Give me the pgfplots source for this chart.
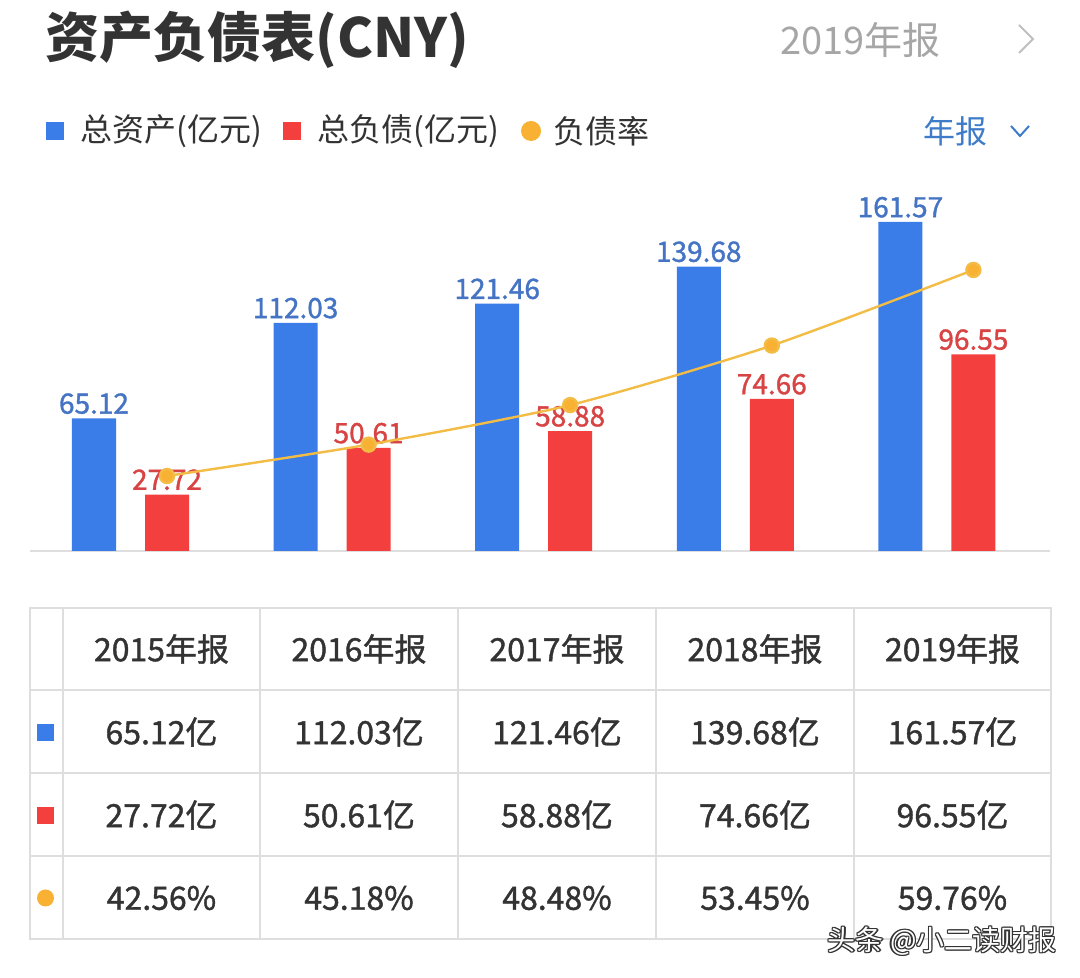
\documentclass[border=0pt]{standalone}
\usepackage{fontspec}
\setmainfont{Noto Sans CJK SC}
\newfontfamily\medfont{Noto Sans CJK SC}[FakeBold=1.2]
\usepackage{pgfplots}
\pgfplotsset{compat=1.18}

\definecolor{zc}{HTML}{3B7DE8}
\definecolor{fz}{HTML}{F43F3F}
\definecolor{rate}{HTML}{F8B133}
\definecolor{ratel}{HTML}{F2BC45}
\definecolor{txt}{HTML}{333333}
\definecolor{gridc}{HTML}{DEDEDE}
\definecolor{zcl}{HTML}{4574C4}
\definecolor{fzl}{HTML}{D84444}
\definecolor{nianbao}{HTML}{3E7BC8}

\begin{document}
\begin{tikzpicture}
\begin{scope}[x=0.5pt,y=0.5pt]
\fill[white] (0,0) rectangle (1080,978);

% header
\node[anchor=west, text=txt, font=\fontsize{27}{30}\selectfont\bfseries, inner sep=0] at (45,{978-40}) {资产负债表(CNY)};
\node[anchor=east, text=black!35, font=\fontsize{19}{22}\selectfont, inner sep=0] at (941,{978-40}) {2019年报};
\draw[black!25, line width=1pt] (1019,{978-25}) -- (1033,{978-39}) -- (1019,{978-53});

% legend
\fill[zc] (46,{978-140}) rectangle (64,{978-122});
\node[anchor=west, text=txt, font=\fontsize{16}{19}\selectfont, inner sep=0] at (80,{978-131}) {总资产(亿元)};
\fill[fz] (283,{978-140}) rectangle (301,{978-122});
\node[anchor=west, text=txt, font=\fontsize{16}{19}\selectfont, inner sep=0] at (317,{978-131}) {总负债(亿元)};
\fill[rate] (531,{978-131}) circle (10);
\node[anchor=west, text=txt, font=\fontsize{16}{19}\selectfont, inner sep=0] at (553,{978-131}) {负债率};
\node[anchor=west, text=nianbao, font=\fontsize{16}{19}\selectfont, inner sep=0] at (923,{978-131}) {年报};
\draw[nianbao, line width=1pt] (1011,{978-126}) -- (1020,{978-136}) -- (1029,{978-126});

% table grid
\draw[gridc, line width=0.7pt] (30,{978-608}) rectangle (1051,{978-939});
\foreach \xx in {63,260,458,656,854} \draw[gridc, line width=0.7pt] (\xx,{978-608}) -- (\xx,{978-939});
\foreach \yy in {690,773,856} \draw[gridc, line width=0.7pt] (30,{978-\yy}) -- (1051,{978-\yy});

% row markers
\fill[zc] (37,{978-741}) rectangle (54,{978-724});
\fill[fz] (37,{978-824}) rectangle (54,{978-807});
\fill[rate] (45.5,{978-898}) circle (8.5);

% table text
\begin{scope}[every node/.style={text=txt, font=\medfont\fontsize{16}{19}\selectfont, inner sep=0}]
\node at (161.5,{978-649}) {2015年报};
\node at (359,{978-649}) {2016年报};
\node at (557,{978-649}) {2017年报};
\node at (755,{978-649}) {2018年报};
\node at (952.5,{978-649}) {2019年报};
\node at (161.5,{978-732}) {65.12亿};
\node at (359,{978-732}) {112.03亿};
\node at (557,{978-732}) {121.46亿};
\node at (755,{978-732}) {139.68亿};
\node at (952.5,{978-732}) {161.57亿};
\node at (161.5,{978-815}) {27.72亿};
\node at (359,{978-815}) {50.61亿};
\node at (557,{978-815}) {58.88亿};
\node at (755,{978-815}) {74.66亿};
\node at (952.5,{978-815}) {96.55亿};
\node at (161.5,{978-898}) {42.56\%};
\node at (359,{978-898}) {45.18\%};
\node at (557,{978-898}) {48.48\%};
\node at (755,{978-898}) {53.45\%};
\node at (952.5,{978-898}) {59.76\%};
\end{scope}

% watermark
\begin{scope}[every node/.style={anchor=east, font=\fontsize{14}{16}\selectfont, inner sep=0}]
\foreach \dx/\dy in {1.2/0,-1.2/0,0/1.2,0/-1.2,1/1,-1/-1,1/-1,-1/1}
  \node[text=black!80] at ({1057+\dx},{978-941+\dy}) {头条 @小二读财报};
\node[text=white] at (1057,{978-941}) {头条 @小二读财报};
\end{scope}
\end{scope}

% bars
\begin{axis}[
    at={(15pt,213.5pt)}, anchor=south west,
    scale only axis, width=510pt, height=185.5pt,
    xmin=-0.4985, xmax=4.561, ymin=0, ymax=182.2,
    axis x line=bottom, axis y line=none,
    x axis line style={draw=gridc, line width=0.6pt, -},
    xtick=\empty, ytick=\empty,
    clip=false,
]
\addplot[ybar, bar width=22pt, bar shift=-18.25pt, fill=zc, draw=none,
    nodes near coords, point meta=explicit symbolic,
    every node near coord/.style={text=zcl, font=\medfont\fontsize{14}{16}\selectfont, anchor=south, inner sep=2pt, xshift=-18.25pt}]
    coordinates {(0,65.12)[65.12] (1,112.03)[112.03] (2,121.46)[121.46] (3,139.68)[139.68] (4,161.57)[161.57]};
\addplot[ybar, bar width=22pt, bar shift=18.25pt, fill=fz, draw=none,
    nodes near coords, point meta=explicit symbolic,
    every node near coord/.style={text=fzl, font=\medfont\fontsize{14}{16}\selectfont, anchor=south, inner sep=2pt, xshift=18.25pt}]
    coordinates {(0,27.72)[27.72] (1,50.61)[50.61] (2,58.88)[58.88] (3,74.66)[74.66] (4,96.55)[96.55]};
\end{axis}

% debt ratio line (x range shifted so points sit on the red bars)
\begin{axis}[
    at={(15pt,213.5pt)}, anchor=south west,
    scale only axis, width=510pt, height=185.5pt,
    xmin=-0.6795, xmax=4.380, ymin=36.30, ymax=67.27,
    hide axis, clip=false,
]
\addplot[ratel, line width=1.2pt, smooth, tension=0.4,
    mark=*, mark size=3.5pt, mark options={fill=rate, draw=none}]
    coordinates {(0,42.56) (1,45.18) (2,48.48) (3,53.45) (4,59.76)};
\end{axis}

\path (0,0) rectangle (540pt,489pt);
\end{tikzpicture}
\end{document}
